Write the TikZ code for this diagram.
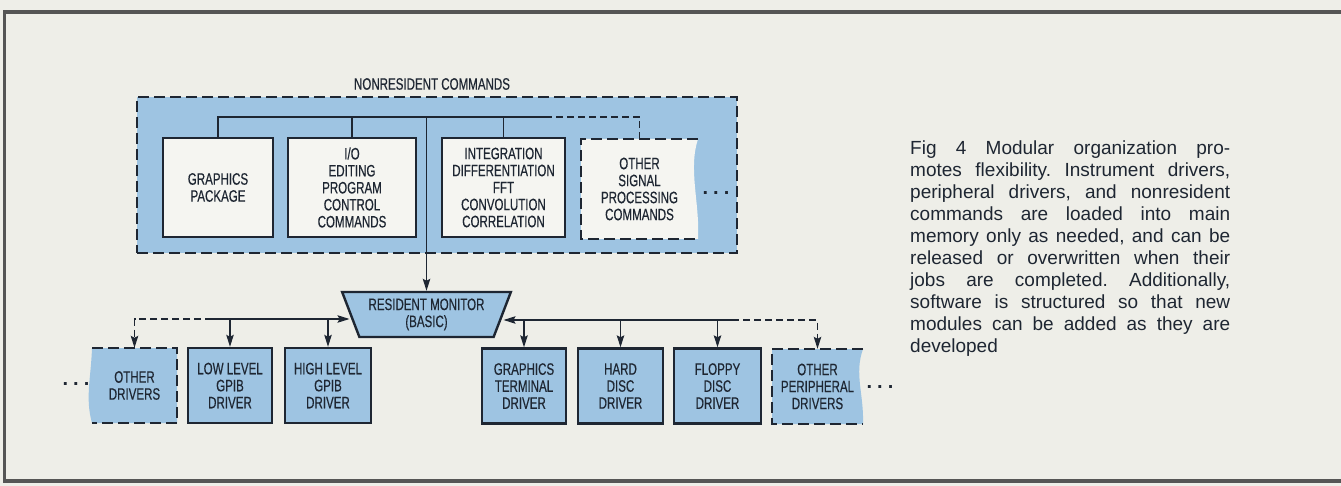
\documentclass[tikz,border=0pt]{standalone}
\usepackage{fontspec}
\setmainfont{Liberation Sans}
\newfontfamily\condfont[FakeStretch=0.7, FakeBold=0.4]{Liberation Sans}
\usepackage{tikz}
\usetikzlibrary{arrows.meta, positioning, shapes.geometric, calc}

\definecolor{paper}{RGB}{238,238,232}
\definecolor{modblue}{RGB}{158,196,226}
\definecolor{boxwhite}{RGB}{245,245,241}
\definecolor{ink}{RGB}{30,38,50}
\definecolor{framegray}{RGB}{85,85,85}

\newcommand{\lblfont}{\condfont\fontsize{16.5}{17}\selectfont}

\begin{document}
\frenchspacing
\begin{tikzpicture}[x=1pt, y=-1pt, >={Stealth[length=12pt, width=7.5pt, inset=2pt]},
  every node/.style={text=ink},
  modbox/.style={draw=ink, line width=2.4pt, fill=boxwhite, font=\lblfont, align=center, inner sep=0pt, minimum height=99pt},
  drvbox/.style={modbox, fill=modblue, minimum height=75pt},
  bare/.style={font=\lblfont, align=center, inner sep=0pt},
  bus/.style={draw=ink, line width=1.1pt},
  dashbus/.style={bus, dash pattern=on 7pt off 4pt},
  dashedge/.style={draw=ink, line width=2.4pt, dash pattern=on 11pt off 5pt},
  dotsnode/.style={font=\fontsize{20}{20}\selectfont\bfseries, inner sep=0pt}]
  \useasboundingbox (0,0) rectangle (1341,486);
  \fill[paper] (0,0) rectangle (1341,486);
  \draw[framegray, line width=3.5pt] (1341,12) -- (4.5,12) -- (4.5,481) -- (1341,481);

  % nonresident commands
  \node[dashedge, fill=modblue, minimum width=600pt, minimum height=156pt, inner sep=0pt] (nonres) at (437,175) {};
  \node[bare] (nrlabel) at (432,84) {NONRESIDENT COMMANDS};
  \node[modbox, minimum width=110pt] (gfx) at (218,187.5) {GRAPHICS\\PACKAGE};
  \node[modbox, minimum width=128pt] (io) at (352,187.5) {I/O\\EDITING\\PROGRAM\\CONTROL\\COMMANDS};
  \node[modbox, minimum width=123pt] (integ) at (503.5,187.5) {INTEGRATION\\DIFFERENTIATION\\FFT\\CONVOLUTION\\CORRELATION};
  \coordinate (osp nw) at (581,139);
  \coordinate (osp se) at (698,239);
  \fill[boxwhite] (osp nw) -- (osp nw -| osp se) .. controls +(-10,30) and +(2,-35) .. (osp se) -- (osp se -| osp nw) -- cycle;
  \draw[dashedge] (osp nw -| osp se) -- (osp nw) -- (osp se -| osp nw) -- (osp se);
  \node[bare, minimum width=117pt, minimum height=100pt] (osp) at ($(osp nw)!0.5!(osp se)$) {OTHER\\SIGNAL\\PROCESSING\\COMMANDS};
  \node[dotsnode] (ospdots) at (716,193) {.\hspace{5pt}.\hspace{5pt}.};

  % resident monitor
  \node[trapezium, trapezium stretches=true, shape border rotate=180, trapezium left angle=65, trapezium right angle=65,
    minimum width=169pt, minimum height=45pt, draw=ink, line width=2.4pt, fill=modblue, font=\lblfont, align=center, inner sep=0pt]
    (monitor) at (426.5,314.5) {RESIDENT MONITOR\\(BASIC)};

  % instrument drivers
  \coordinate (odrv nw) at (92,348);
  \coordinate (odrv se) at (177,423);
  \fill[modblue] (odrv se) -- (odrv se -| odrv nw) .. controls +(-7,-25) and +(-1,30) .. (odrv nw) -- (odrv nw -| odrv se) -- cycle;
  \draw[dashedge] (odrv nw) -- (odrv nw -| odrv se) -- (odrv se) -- (odrv se -| odrv nw);
  \node[bare, minimum width=85pt, minimum height=75pt] (odrv) at ($(odrv nw)!0.5!(odrv se)$) {OTHER\\DRIVERS};
  \node[dotsnode] (odots) at (76,384) {.\hspace{5pt}.\hspace{5pt}.};
  \node[drvbox, minimum width=84pt] (lgpib) at (230,385.5) {LOW LEVEL\\GPIB\\DRIVER};
  \node[drvbox, minimum width=86pt] (hgpib) at (328,385.5) {HIGH LEVEL\\GPIB\\DRIVER};

  % peripheral drivers
  \node[drvbox, minimum width=84pt] (gterm) at (524,386) {GRAPHICS\\TERMINAL\\DRIVER};
  \node[drvbox, minimum width=85pt] (hdisc) at (620.5,386) {HARD\\DISC\\DRIVER};
  \node[drvbox, minimum width=87pt] (fdisc) at (717.5,386) {FLOPPY\\DISC\\DRIVER};
  \coordinate (oper nw) at (772,349);
  \coordinate (oper se) at (863,424);
  \fill[modblue] (oper nw) -- (oper nw -| oper se) .. controls +(-9,25) and +(1,-30) .. (oper se) -- (oper se -| oper nw) -- cycle;
  \draw[dashedge] (oper nw -| oper se) -- (oper nw) -- (oper se -| oper nw) -- (oper se);
  \node[bare, minimum width=91pt, minimum height=75pt] (oper) at ($(oper nw)!0.5!(oper se)$) {OTHER\\PERIPHERAL\\DRIVERS};
  \node[dotsnode] (operdots) at (880,387) {.\hspace{5pt}.\hspace{5pt}.};

  % buses
  \coordinate (topbus) at (545,117);
  \draw[bus] (gfx.north) |- (topbus);
  \draw[bus] (io.north) -- (io.north |- topbus);
  \draw[bus] (integ.north) -- (integ.north |- topbus);
  \draw[dashbus] (topbus) -| (osp.north);
  \draw[bus, ->] (monitor.north |- topbus) -- (monitor.north);

  \coordinate (lbus) at (212,319);
  \draw[bus, ->] (lbus) -- (monitor.west |- lbus);
  \draw[dashbus, ->] (lbus) -| (odrv.north);
  \draw[bus, ->] (lgpib.north |- lbus) -- (lgpib.north);
  \draw[bus, ->] (hgpib.north |- lbus) -- (hgpib.north);

  \coordinate (rbus) at (732,320);
  \draw[bus, ->] (rbus) -- (monitor.east |- rbus);
  \draw[dashbus, ->] (rbus) -| (oper.north);
  \draw[bus, ->] (gterm.north |- rbus) -- (gterm.north);
  \draw[bus, ->] (hdisc.north |- rbus) -- (hdisc.north);
  \draw[bus, ->] (fdisc.north |- rbus) -- (fdisc.north);

  % caption
  \node[anchor=north west, inner sep=0pt, font=\fontsize{19}{22}\selectfont, text width=320pt, align=justify] (caption) at (910,141) {%
    \makebox[320pt][s]{Fig 4 Modular organization pro-}\\
    \makebox[320pt][s]{motes flexibility. Instrument drivers,}\\
    \makebox[320pt][s]{peripheral drivers, and nonresident}\\
    \makebox[320pt][s]{commands are loaded into main}\\
    \makebox[320pt][s]{memory only as needed, and can be}\\
    \makebox[320pt][s]{released or overwritten when their}\\
    \makebox[320pt][s]{jobs are completed. Additionally,}\\
    \makebox[320pt][s]{software is structured so that new}\\
    \makebox[320pt][s]{modules can be added as they are}\\
    developed};
\end{tikzpicture}
\end{document}
